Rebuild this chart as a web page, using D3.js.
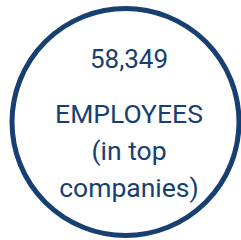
<!DOCTYPE html>
<html>
<head>
<meta charset="utf-8">
<script src="https://cdn.jsdelivr.net/npm/d3@7"></script>
<style>
  html, body { margin: 0; padding: 0; background: #fff; overflow: hidden; }
</style>
</head>
<body>
<div id="chart"></div>
<script>
// KPI bubble: one value, one label split in lines
const kpiValue = [58349];
const labelLines = ["EMPLOYEES", "(in top", "companies)"];

const width = 241, height = 240;
const navy = "#173f72";

const svg = d3.select("#chart")
  .append("svg")
  .attr("width", width)
  .attr("height", height);

// outer ring
svg.append("circle")
  .attr("cx", 125.5)
  .attr("cy", 122)
  .attr("r", 113.5)
  .attr("fill", "none")
  .attr("stroke", navy)
  .attr("stroke-width", 5);

const fmt = d3.format(",");

svg.selectAll("text.value")
  .data(kpiValue)
  .join("text")
  .attr("class", "value")
  .attr("x", 129)
  .attr("y", 68)
  .attr("text-anchor", "middle")
  .style("font-family", "Roboto, sans-serif")
  .style("font-size", "26px")
  .style("fill", navy)
  .text(d => fmt(d));

// label lines, one below the other
const lineY = d3.scalePoint()
  .domain(d3.range(labelLines.length))
  .range([123, 197]);

svg.selectAll("text.label")
  .data(labelLines)
  .join("text")
  .attr("class", "label")
  .attr("x", 129)
  .attr("y", (d, i) => lineY(i))
  .attr("text-anchor", "middle")
  .style("font-family", "Roboto, sans-serif")
  .style("font-size", "26.5px")
  .style("fill", navy)
  .text(d => d);
</script>
</body>
</html>
